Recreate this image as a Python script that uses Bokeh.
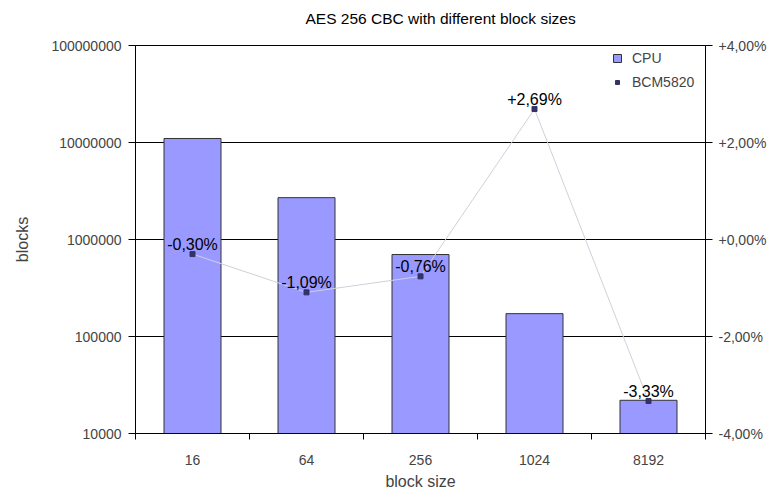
from bokeh.plotting import figure
from bokeh.models import (Range1d, LinearAxis, LinearScale, FixedTicker, CustomJSTickFormatter,
                          Legend, LegendItem, ColumnDataSource, Title)
from bokeh.core.properties import value
from bokeh.embed import file_html
from bokeh.resources import INLINE

# ---- data ----
categories = ["16", "64", "256", "1024", "8192"]
cpu_blocks = [11000000, 2700000, 700000, 172000, 22000]
bcm_pct = [-0.30, -1.09, -0.76, 2.69, -3.33]
left_ticks = [1e4, 1e5, 1e6, 1e7, 1e8]
right_ticks = [-4, -2, 0, 2, 4]
title_text = "AES 256 CBC with different block sizes"

FONT = "Liberation Sans"

xs = [i + 0.5 for i in range(len(categories))]
bounds = [float(i) for i in range(len(categories) + 1)]


def fmt_pct(v):
    s = f"{abs(v):.2f}".replace(".", ",")
    return ("+" if v >= 0 else "-") + s + "%"


pct_labels = [fmt_pct(v) for v in bcm_pct]

src = ColumnDataSource(dict(x=xs, cat=categories, cpu=cpu_blocks, pct=bcm_pct, lab=pct_labels))

p = figure(width=770, height=496, output_backend="svg", toolbar_location=None,
           x_range=Range1d(0, len(categories)), y_axis_type="log",
           y_range=Range1d(left_ticks[0], left_ticks[-1]),
           min_border_left=135, min_border_right=65, min_border_top=45, min_border_bottom=63,
           background_fill_color="white", border_fill_color="white")
p.extra_y_ranges = {"pct": Range1d(right_ticks[0], right_ticks[-1])}
p.extra_y_scales = {"pct": LinearScale()}

p.title.text = title_text
p.title.align = "left"
p.title.offset = 170
p.title.vertical_align = "top"
p.title.text_font = FONT
p.title.text_font_size = "15.5px"
p.title.text_font_style = "normal"
p.title.text_color = "black"
p.title.standoff = 18

# thin spacer between the title and the plot frame
spacer = Title(text=" ", text_font_size="1px", standoff=5)
p.add_layout(spacer, "above")

p.outline_line_color = "black"

# bars
bars = p.vbar(x="x", top="cpu", bottom=left_ticks[0], width=0.5, source=src,
              fill_color="#9999FF", line_color="#333333", line_width=1)

# line + markers on secondary axis
p.line(x="x", y="pct", source=src, y_range_name="pct", line_color="#D0D0DC", line_width=1)
pts = p.scatter(x="x", y="pct", source=src, y_range_name="pct", marker="square", size=5,
                fill_color="#333366", line_color="#333366")
p.text(x="x", y="pct", text="lab", source=src, y_range_name="pct",
       text_align="center", text_baseline="bottom", y_offset=-1,
       text_font=value(FONT), text_font_size="16px", text_color="black")

# left (log) axis
ly = p.yaxis[0]
ly.ticker = FixedTicker(ticks=left_ticks)
ly.formatter = CustomJSTickFormatter(code="return Math.round(tick).toString();")
ly.axis_label = "blocks"
ly.axis_label_text_font = FONT
ly.axis_label_text_font_size = "16px"
ly.axis_label_text_font_style = "normal"
ly.axis_label_standoff = 17
ly.major_label_text_font = FONT
ly.major_label_text_font_size = "14px"
ly.major_label_standoff = 7
ly.major_tick_out = 7
ly.major_tick_in = 0
ly.minor_tick_out = 0
ly.minor_tick_in = 0
ly.axis_line_color = "black"
ly.major_tick_line_color = "black"

# right axis
ry = LinearAxis(y_range_name="pct", ticker=FixedTicker(ticks=right_ticks),
                formatter=CustomJSTickFormatter(
                    code="var s = Math.abs(tick).toFixed(2).replace('.', ',');"
                         "return (tick >= 0 ? '+' : '-') + s + '%';"))
ry.major_label_text_font = FONT
ry.major_label_text_font_size = "14px"
ry.major_label_standoff = 6
ry.major_tick_out = 7
ry.major_tick_in = 0
ry.minor_tick_out = 0
ry.minor_tick_in = 0
ry.axis_line_color = "black"
ry.major_tick_line_color = "black"
p.add_layout(ry, "right")

# bottom axis
bx = p.xaxis[0]
bx.ticker = FixedTicker(ticks=xs, minor_ticks=bounds)
bx.formatter = CustomJSTickFormatter(args=dict(labels=categories),
                                     code="return labels[Math.round(tick - 0.5)];")
bx.major_tick_out = 0
bx.major_tick_in = 0
bx.minor_tick_out = 6
bx.minor_tick_in = 0
bx.minor_tick_line_color = "black"
bx.axis_line_color = "black"
bx.major_label_text_font = FONT
bx.major_label_text_font_size = "14px"
bx.major_label_standoff = 15
bx.axis_label = "block size"
bx.axis_label_text_font = FONT
bx.axis_label_text_font_size = "16px"
bx.axis_label_text_font_style = "normal"
bx.axis_label_standoff = 5

p.xgrid.visible = False
p.ygrid.ticker = FixedTicker(ticks=left_ticks)
p.ygrid.grid_line_color = "black"
p.ygrid.grid_line_width = 1

legend = Legend(items=[LegendItem(label="CPU", renderers=[bars]),
                       LegendItem(label="BCM5820", renderers=[pts])],
                location=(477, 343), margin=0, padding=4, spacing=8,
                glyph_width=10, glyph_height=10, label_height=10, label_standoff=10,
                label_text_font=FONT, label_text_font_size="14px",
                border_line_color=None, background_fill_color="white", background_fill_alpha=1)
p.add_layout(legend, "center")

open("out.html", "w").write(file_html(p, INLINE))
